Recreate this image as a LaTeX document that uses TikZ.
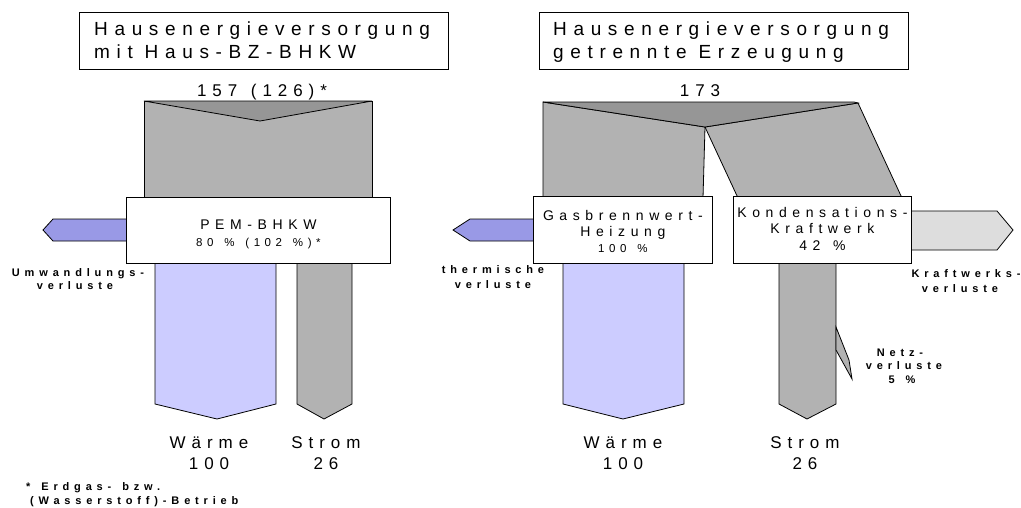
\documentclass[tikz,border=0pt]{standalone}
\usepackage{fontspec}
\setmainfont{Liberation Sans}
\newfontfamily\titlefont{Liberation Sans}[LetterSpace=35]
\newfontfamily\boxfont{Liberation Sans}[LetterSpace=40]
\newfontfamily\lossfont{Liberation Sans Bold}[LetterSpace=44]
\newcommand\wgap{\hspace{3pt}}
\definecolor{flowgray}{RGB}{178,178,178}
\definecolor{splitgray}{RGB}{150,150,150}
\definecolor{heatblue}{RGB}{204,204,255}
\definecolor{lossblue}{RGB}{153,153,230}
\definecolor{plantloss}{RGB}{221,221,221}
\tikzset{
  outline/.style={draw=black, line width=0.8pt, line join=miter},
  unitbox/.style={outline, fill=white, inner sep=0pt, anchor=north west},
  titletext/.style={inner sep=0pt, anchor=base west, font=\titlefont\fontsize{19}{22}\selectfont},
  sumtext/.style={inner sep=0pt, anchor=base, font=\titlefont\fontsize{17}{20}\selectfont},
  outtext/.style={inner sep=0pt, anchor=base, font=\titlefont\fontsize{17}{20}\selectfont},
  unittext/.style={inner sep=0pt, anchor=base, font=\boxfont\fontsize{14}{16}\selectfont},
  ratetext/.style={inner sep=0pt, anchor=base, font=\boxfont\fontsize{11.5}{14}\selectfont},
  losstext/.style={inner sep=0pt, anchor=base, font=\lossfont\fontsize{11}{13}\selectfont},
}
\begin{document}
\begin{tikzpicture}[x=1pt, y=-1pt]
\useasboundingbox (0,0) rectangle (1021,507);

% ---------------- left: house fuel-cell CHP ----------------
\node[outline, inner sep=0pt, minimum width=369pt, minimum height=57pt, anchor=north west] (titleA) at (79,12) {};
\node[titletext] (titleA1) at (94,35) {Hausenergieversorgung};
\node[titletext] (titleA2) at (94,58) {mit Haus-BZ-BHKW};
\node[sumtext] (sumA) at (262,96) {157 \wgap(126)*};

% fuel input
\coordinate (inA1) at (144,101);
\coordinate (inA2) at (372,101);
\coordinate (notchA) at (260,121);
\filldraw[outline, fill=flowgray] (inA1) -- (inA2) -- (372,198) -- (144,198) -- cycle;
\filldraw[outline, fill=splitgray] (inA1) -- (inA2) -- (notchA) -- cycle;

% conversion losses
\filldraw[outline, fill=lossblue] (130,219) -- (53,219) -- (43,230) -- (53,241) -- (130,241) -- cycle;

% heat and power outputs
\filldraw[outline, fill=heatblue] (155,260) -- (276,260) -- (276,404) -- (217,419) -- (155,404) -- cycle;
\filldraw[outline, fill=flowgray] (297,260) -- (352,260) -- (352,404) -- (324,419) -- (297,404) -- cycle;

\node[unitbox, minimum width=264pt, minimum height=66pt] (pem) at (126,197) {};
\node[unittext] (pemname) at (pem.center |- 0,229) {PEM-BHKW};
\node[ratetext] (pemrate) at (pem.center |- 0,246) {80 \wgap\% \wgap(102 \wgap\%)*};

\node[losstext] (lossA1) at (78,276) {Umwandlungs-};
\node[losstext] (lossA2) at (75,289) {verluste};

\node[outtext] (heatA1) at (209,448) {Wärme};
\node[outtext] (heatA2) at (209,469) {100};
\node[outtext] (powerA1) at (326,448) {Strom};
\node[outtext] (powerA2) at (326,469) {26};

\node[losstext, anchor=base west] (noteA1) at (26,490) {* \wgap Erdgas- \wgap bzw.};
\node[losstext, anchor=base west] (noteA2) at (30,504) {(Wasserstoff)-Betrieb};

% ---------------- right: separate generation ----------------
\node[outline, inner sep=0pt, minimum width=369pt, minimum height=57pt, anchor=north west] (titleB) at (539,12) {};
\node[titletext] (titleB1) at (553,35) {Hausenergieversorgung};
\node[titletext] (titleB2) at (553,58) {getrennte Erzeugung};
\node[sumtext] (sumB) at (700,96) {173};

% fuel input, split into boiler and power plant
\coordinate (inB1) at (543,102);
\coordinate (inB2) at (854,102);
\coordinate (inB3) at (858,103);
\coordinate (notchB) at (705,127);
\filldraw[outline, fill=flowgray] (inB1) -- (notchB) -- (703,198) -- (543,198) -- cycle;
\filldraw[outline, fill=flowgray] (notchB) -- (inB3) -- (902,198) -- (738,198) -- cycle;
\filldraw[outline, fill=splitgray] (inB1) -- (inB2) -- (inB3) -- (notchB) -- cycle;

% thermal losses and power-plant losses
\filldraw[outline, fill=lossblue] (537,219) -- (470,219) -- (453,230) -- (470,241) -- (537,241) -- cycle;
\filldraw[outline, fill=plantloss] (905,211) -- (997,211) -- (1013,230) -- (997,250) -- (905,250) -- cycle;

% heat and power outputs, grid losses
\filldraw[outline, fill=heatblue] (563,260) -- (684,260) -- (684,404) -- (623,419) -- (563,404) -- cycle;
\filldraw[outline, fill=flowgray] (779,260) -- (836,260) -- (836,404) -- (807,419) -- (779,404) -- cycle;
\filldraw[outline, fill=flowgray] (836,327) -- (849,360) -- (852,379) -- (836,350) -- cycle;

\node[unitbox, minimum width=179pt, minimum height=67pt] (boiler) at (533,196) {};
\node[unittext] (boiler1) at (boiler.center |- 0,220) {Gasbrennwert-};
\node[unittext] (boiler2) at (boiler.center |- 0,236) {Heizung};
\node[ratetext] (boiler3) at (boiler.center |- 0,252) {100 \wgap\%};

\node[unitbox, minimum width=178pt, minimum height=67pt] (plant) at (733,196) {};
\node[unittext] (plant1) at (plant.center |- 0,217) {Kondensations-};
\node[unittext] (plant2) at (plant.center |- 0,233) {Kraftwerk};
\node[unittext] (plant3) at (plant.center |- 0,250) {42 \wgap\%};

\node[losstext] (lossB1) at (493,273) {thermische};
\node[losstext] (lossB2) at (493,288) {verluste};
\node[losstext] (lossC1) at (966,277) {Kraftwerks-};
\node[losstext] (lossC2) at (960,292) {verluste};
\node[losstext] (grid1) at (900,356) {Netz-};
\node[losstext] (grid2) at (904,369) {verluste};
\node[losstext] (grid3) at (902,383) {5 \wgap\%};

\node[outtext] (heatB1) at (623,448) {Wärme};
\node[outtext] (heatB2) at (623,469) {100};
\node[outtext] (powerB1) at (805,448) {Strom};
\node[outtext] (powerB2) at (805,469) {26};
\end{tikzpicture}
\end{document}
